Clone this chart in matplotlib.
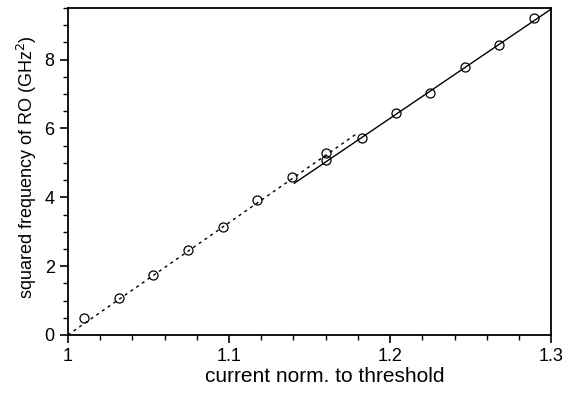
import numpy as np
import matplotlib.pyplot as plt
from matplotlib.ticker import MultipleLocator

plt.rcParams['font.family'] = ['Liberation Sans', 'DejaVu Sans']

# measured points: current normalised to threshold vs squared RO frequency
current = [1.010, 1.0315, 1.053, 1.0747, 1.0961, 1.1176, 1.139, 1.160,
           1.160, 1.1824, 1.2035, 1.2248, 1.2466, 1.2679, 1.2894]
freq_sq = [0.48, 1.08, 1.74, 2.455, 3.15, 3.91, 4.59, 5.30,
           5.07, 5.73, 6.455, 7.03, 7.80, 8.43, 9.21]

# fitted lines (end points)
fit_low_x = [1.0, 1.179]
fit_low_y = [0.0, 5.84]
fit_high_x = [1.1406, 1.30]
fit_high_y = [4.41, 9.47]

fig = plt.figure(figsize=(5.7, 3.93), dpi=100)
ax = fig.add_axes([0.119, 0.1476, 0.848, 0.832])

ax.plot(fit_low_x, fit_low_y, color='black', lw=1.0, linestyle=(0, (2.2, 2.8)))
ax.plot(fit_high_x, fit_high_y, color='black', lw=1.0, clip_on=False)
ax.plot(current, freq_sq, 'o', ms=6.5, mfc='none', mec='black', mew=0.9)

ax.set_xlim(1.0, 1.3)
ax.set_ylim(0, 9.5)
ax.xaxis.set_major_locator(MultipleLocator(0.1))
ax.xaxis.set_minor_locator(MultipleLocator(0.02))
ax.yaxis.set_major_locator(MultipleLocator(2))
ax.yaxis.set_minor_locator(MultipleLocator(0.5))
ax.set_xticks([1.0, 1.1, 1.2, 1.3])
ax.set_xticklabels(['1', '1.1', '1.2', '1.3'])

ax.tick_params(which='major', direction='out', length=6, width=1.2, labelsize=13)
ax.tick_params(which='minor', direction='out', length=3.5, width=1.0)
for s in ax.spines.values():
    s.set_linewidth(1.3)

ax.set_xlabel('current norm. to threshold', fontsize=15, labelpad=1, x=0.531)
ax.set_ylabel('squared frequency of RO (GHz$^2$)', fontsize=13, labelpad=4, y=0.512)

fig.savefig('out.png', dpi=100)
